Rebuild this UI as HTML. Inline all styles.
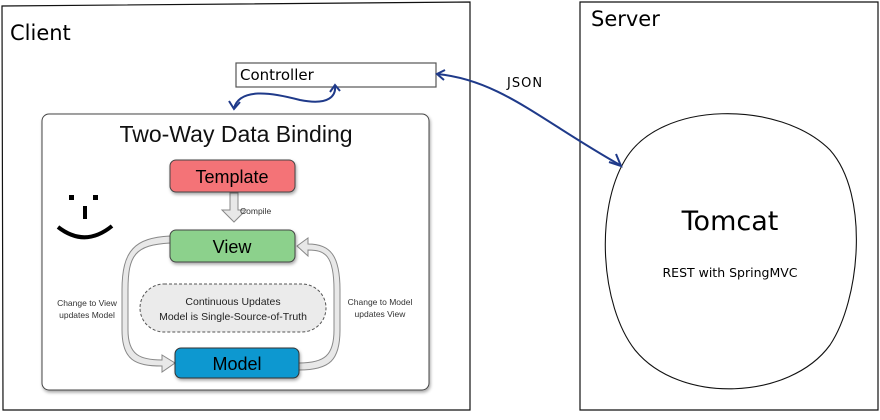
<!DOCTYPE html>
<html><head><meta charset="utf-8"><style>
body{margin:0;width:880px;height:415px;background:#fff;overflow:hidden;font-family:"Liberation Sans",sans-serif}
</style></head><body>
<svg width="880" height="415" xmlns="http://www.w3.org/2000/svg">
<defs>
<filter id="sh" x="-10%" y="-10%" width="130%" height="140%"><feDropShadow dx="1" dy="2" stdDeviation="1.5" flood-color="#000" flood-opacity="0.35"/></filter>
</defs>
<path d="M2 6 L470 2 L470 410 L3 410 Z" fill="#fff" stroke="#111" stroke-width="1.2"/>
<text x="10" y="40" font-family="'DejaVu Sans',sans-serif" font-size="21" fill="#000">Client</text>
<path d="M580 2 L878 2 L878 410 L580 410 Z" fill="#fff" stroke="#111" stroke-width="1.2"/>
<text x="591" y="26" font-family="'DejaVu Sans',sans-serif" font-size="21" fill="#000">Server</text>
<path d="M625 160 C660 100 780 100 830 150 C870 195 860 300 830 345 C790 400 680 405 635 350 C600 305 595 210 625 160 Z" fill="#fff" stroke="#111" stroke-width="1.1"/>
<text x="730" y="230" text-anchor="middle" font-family="'DejaVu Sans',sans-serif" font-size="27">Tomcat</text>
<text x="730" y="277" text-anchor="middle" font-family="'DejaVu Sans',sans-serif" font-size="12.5">REST with SpringMVC</text>
<rect x="236" y="63" width="200" height="24" fill="#fff" stroke="#555" stroke-width="1.2"/>
<text x="240" y="80" font-family="'DejaVu Sans',sans-serif" font-size="15">Controller</text>
<text x="507" y="87" font-family="'DejaVu Sans',sans-serif" font-size="13" letter-spacing="1">JSON</text>
<g stroke="#1f3a8a" stroke-width="2" fill="none">
<path d="M437 74 C500 80 540 120 620 165"/>
<path d="M445 70 L437 74 L444 80"/>
<path d="M609 162 L621 166 L616 154"/>
<path d="M234 108 C240 88 270 92 300 100 C330 106 336 95 335 86"/>
<path d="M229 101 L234 109 L240 102"/>
<path d="M330 92 L335 85 L340 91"/>
</g>
<rect x="42" y="114" width="387" height="276" rx="7" fill="#fff" stroke="#444" stroke-width="1" filter="url(#sh)"/>
<text x="236" y="142" text-anchor="middle" font-size="23" fill="#111">Two-Way Data Binding</text>
<rect x="69" y="195" width="5" height="5" fill="#000"/><rect x="93" y="195" width="5" height="5" fill="#000"/>
<rect x="83" y="206" width="4" height="13" fill="#000"/>
<path d="M58 227 Q85 248 112 226" stroke="#000" stroke-width="4" fill="none"/>
<g fill="#e8e8e8" stroke="#888" stroke-width="1">
<path d="M170 243 C135 245 128 255 128 290 L128 330 C128 355 140 360 162 360 L162 355 L175 363 L162 372 L162 366 C135 366 122 360 122 330 L122 290 C122 250 135 238 170 236 Z"/>
<path d="M299 363 C325 363 334 355 334 330 L334 290 C334 255 325 250 308 250 L308 256 L297 246 L308 238 L308 244 C330 244 340 255 340 290 L340 330 C340 360 330 370 299 370 Z"/>
<path d="M230 193 L238 193 L238 210 L246 210 L234 222 L222 210 L230 210 Z"/>
</g>
<text x="240" y="214" font-size="8.5" fill="#333">Compile</text>
<rect x="170" y="160" width="125" height="32" rx="6" fill="#f47377" stroke="#444" filter="url(#sh)"/>
<text x="232" y="183" text-anchor="middle" font-size="18">Template</text>
<rect x="170" y="230" width="125" height="32" rx="6" fill="#8cd18c" stroke="#444" filter="url(#sh)"/>
<text x="232" y="253" text-anchor="middle" font-size="18">View</text>
<rect x="175" y="348" width="124" height="30" rx="6" fill="#0b98d0" stroke="#333" filter="url(#sh)"/>
<text x="237" y="370" text-anchor="middle" font-size="18">Model</text>
<rect x="140" y="284" width="186" height="48" rx="24" fill="#ebebeb" stroke="#555" stroke-dasharray="3,2"/>
<text x="233" y="305" text-anchor="middle" font-size="10.5" fill="#222">Continuous Updates</text>
<text x="233" y="320" text-anchor="middle" font-size="10.5" fill="#222">Model is Single-Source-of-Truth</text>
<text x="87" y="306" text-anchor="middle" font-size="8.5" fill="#333">Change to View</text>
<text x="87" y="318" text-anchor="middle" font-size="8.5" fill="#333">updates Model</text>
<text x="380" y="305" text-anchor="middle" font-size="8.5" fill="#333">Change to Model</text>
<text x="380" y="317" text-anchor="middle" font-size="8.5" fill="#333">updates View</text>
</svg>
</body></html>
